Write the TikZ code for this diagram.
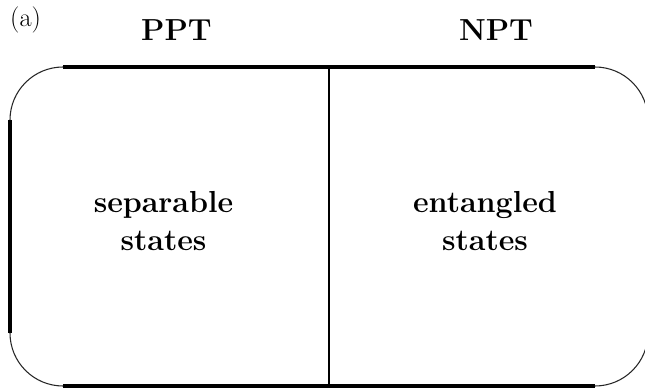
\documentclass[tikz,border=0pt]{standalone}
\usepackage{fontspec}
\usepackage{tikz}
\usetikzlibrary{calc}
\def\cornerarc[#1](#2)(#3:#4:#5){\draw[#1] ($(#2)+({#5*cos(#3)},{#5*sin(#3)})$) arc (#3:#4:#5);}
\tikzset{
	boxline/.style={line width=1.8pt},
	midline/.style={line width=1.2pt},
	cornerline/.style={line width=0.6pt, color=black!85},
	headtext/.style={font=\fontsize{17.3}{21.6}\selectfont\bfseries, anchor=base},
	regiontext/.style={font=\fontsize{17.3}{21.6}\selectfont\bfseries, align=center},
}
\begin{document}
\begin{tikzpicture}
			%%%%% START %%%%%
			
			\useasboundingbox (0, 0) rectangle (12.9, 7.82);
			\clip (0, 0) rectangle (12.9, 7.82);
			
			\node[font=\fontsize{15}{18}\selectfont, anchor=base west] (label) at (0.08, 7.28) {(a)};
			\node[headtext] (ppt) at (3.53, 7.0) {PPT};
			\node[headtext] (npt) at (9.92, 7.0) {NPT};
			
			\draw[boxline] (1.26, 6.48) -- (11.9, 6.48);
			\draw[boxline] (1.26, 0.10) -- (11.9, 0.10);
			\draw[boxline] (0.2, 5.42) -- (0.2, 1.16);
			
			\cornerarc[cornerline](1.26, 5.42)(90:180:1.06);
			\cornerarc[cornerline](1.26, 1.16)(180:270:1.06);
			\cornerarc[cornerline](11.9, 5.42)(90:0:1.06);
			\cornerarc[cornerline](11.9, 1.16)(270:360:1.06);
			
			\draw[midline] (6.58, 6.48) -- (6.58, 0.10);
			
			\node[regiontext] (sep) at (3.27, 3.39) {separable\\states};
			\node[regiontext] (ent) at (9.7, 3.39) {entangled\\states};
			
			%%%%% END %%%%%
		\end{tikzpicture}
\end{document}
